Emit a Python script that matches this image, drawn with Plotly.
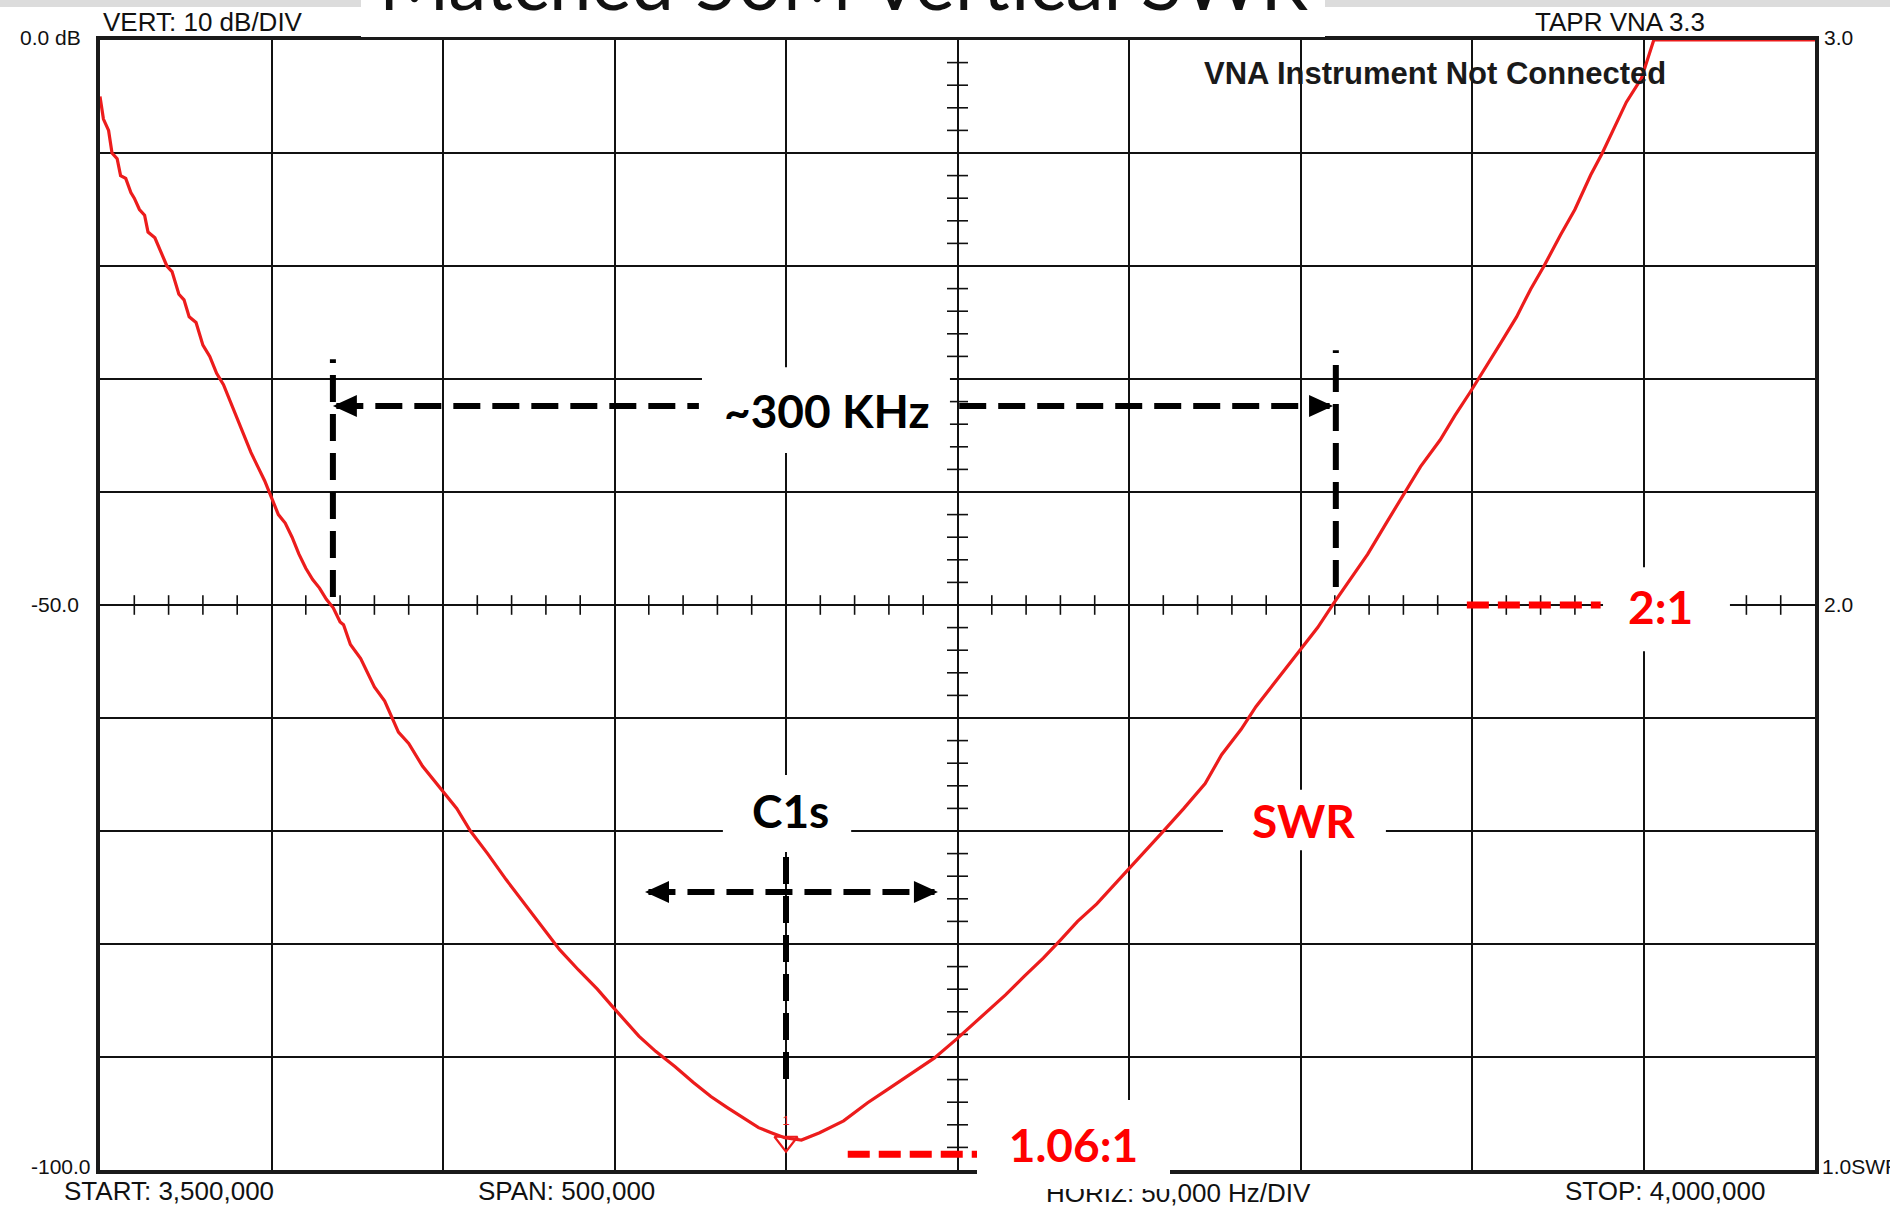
import plotly.graph_objects as go
import numpy as np

# ---------------- data ----------------
freq_khz = [3500, 3501, 3502.5, 3503.5, 3505, 3506, 3507.5, 3509, 3510, 3511.5,
            3513, 3514, 3516, 3518, 3519.5, 3521, 3523, 3524.5, 3526, 3528,
            3530, 3532, 3534, 3536, 3538, 3540, 3542, 3544, 3546, 3548,
            3550, 3552, 3554, 3556, 3558, 3560, 3562, 3564, 3566, 3568,
            3570, 3571, 3573, 3576, 3580, 3583, 3587, 3590, 3594, 3599.4,
            3604, 3608, 3613, 3618.4, 3624, 3629, 3634, 3639.5, 3645, 3649.3,
            3653, 3657.1, 3662, 3667.6, 3673, 3678.1, 3683, 3688.7, 3692, 3695.7,
            3699.6, 3704.5, 3709.8, 3716.8, 3723.8, 3729, 3734.4, 3739, 3743.2, 3749.8,
            3754, 3759, 3764, 3769.5, 3775, 3780, 3785, 3790.6, 3795, 3799.7,
            3805, 3809.9, 3816, 3822.2, 3827, 3832.7, 3837, 3841.5, 3846, 3849.6,
            3855, 3859.8, 3865, 3869.6, 3875, 3880.2, 3885, 3890.7, 3895, 3899.5,
            3904, 3908.3, 3913, 3917.1, 3921, 3925.8, 3930, 3934.6, 3938, 3941.7,
            3945, 3949.4, 3953, 3960, 3980, 4000]
swr = [2.90, 2.86, 2.84, 2.80, 2.79, 2.76, 2.755, 2.73, 2.72, 2.70,
       2.69, 2.66, 2.65, 2.62, 2.60, 2.59, 2.55, 2.54, 2.51, 2.50,
       2.46, 2.44, 2.41, 2.39, 2.36, 2.33, 2.30, 2.27, 2.245, 2.22,
       2.19, 2.16, 2.145, 2.12, 2.09, 2.065, 2.045, 2.03, 2.01, 1.995,
       1.97, 1.965, 1.93, 1.905, 1.855, 1.83, 1.775, 1.755, 1.715, 1.674,
       1.64, 1.60, 1.56, 1.514, 1.47, 1.43, 1.39, 1.354, 1.32, 1.29,
       1.265, 1.237, 1.21, 1.183, 1.155, 1.13, 1.11, 1.087, 1.075, 1.066,
       1.057, 1.053, 1.066, 1.087, 1.119, 1.14, 1.162, 1.18, 1.198, 1.232,
       1.255, 1.284, 1.31, 1.343, 1.375, 1.407, 1.44, 1.471, 1.50, 1.531,
       1.565, 1.599, 1.64, 1.684, 1.735, 1.78, 1.82, 1.855, 1.89, 1.919,
       1.96, 2.004, 2.05, 2.09, 2.145, 2.196, 2.245, 2.292, 2.335, 2.377,
       2.42, 2.463, 2.51, 2.559, 2.60, 2.655, 2.70, 2.761, 2.80, 2.846,
       2.89, 2.932, 3.0, 3.0, 3.0, 3.0]

x_range = [3500, 4000]
y_range = [1.0, 3.0]
x_div = 50
y_div = 0.2

marker_freq = [3700]
marker_swr = [1.05]

# annotation geometry (data units)
bw_left_x, bw_right_x = 3567.9, 3860.3
bw_left_y = [2.014, 2.435]
bw_right_y = [2.032, 2.451]
bw_arrow_y = 2.352
bw_arrow_left = [3567.9, 3674.6]
bw_arrow_right = [3750.5, 3859.5]

c1s_x = 3700.0
c1s_vert_y = [1.161, 1.563]
c1s_arrow_y = 1.492
c1s_arrow_x = [3658.9, 3744.3]

swr2_dash_x = [3898.5, 3937.5]
swr2_y = 2.0
swrmin_dash_x = [3718.0, 3757.0]
swrmin_y = 1.028

# ---------------- layout geometry ----------------
W, H = 1890, 1209
L, R, T, B = 100, 75, 40, 39
PW, PH = W - L - R, H - T - B


def px(xp):
    return (xp - L) / PW


def py(yp):
    return (H - B - yp) / PH


RED_C = "rgb(236,28,28)"
fig = go.Figure()

# center crosshair minor ticks
xt = [v for v in np.arange(x_range[0], x_range[1] + 1e-9, x_div / 5)
      if abs((v - x_range[0]) / x_div - round((v - x_range[0]) / x_div)) > 1e-6]
yt = [v for v in np.arange(y_range[0], y_range[1] + 1e-9, y_div / 5)
      if abs((v - y_range[0]) / y_div - round((v - y_range[0]) / y_div)) > 1e-6]
xc = (x_range[0] + x_range[1]) / 2
yc = (y_range[0] + y_range[1]) / 2
fig.add_trace(go.Scatter(x=xt, y=[yc] * len(xt), mode="markers",
                         marker=dict(symbol="line-ns", size=14,
                                     line=dict(color="#111", width=1.6)),
                         hoverinfo="skip", showlegend=False))
fig.add_trace(go.Scatter(x=[xc] * len(yt), y=yt, mode="markers",
                         marker=dict(symbol="line-ew", size=15,
                                     line=dict(color="#111", width=1.6)),
                         hoverinfo="skip", showlegend=False))

# SWR curve
fig.add_trace(go.Scatter(x=freq_khz, y=swr, mode="lines",
                         line=dict(color=RED_C, width=3.2),
                         cliponaxis=False, showlegend=False))
# marker
fig.add_trace(go.Scatter(x=marker_freq, y=marker_swr, mode="markers+text",
                         marker=dict(symbol="triangle-down-open", size=20, color=RED_C,
                                     line=dict(color=RED_C, width=2.2)),
                         text=["1"], textposition="top center",
                         textfont=dict(size=13, color=RED_C, family="Liberation Sans"),
                         showlegend=False))

shapes = []
BLK = "#000000"
RED = "#ff0000"
DASH_B = "27px,12px"
DASH_R = "22px,9px"


def wbox(x0, x1, y0, y1, ref="data"):
    if ref == "data":
        shapes.append(dict(type="rect", xref="x", yref="y", x0=x0, x1=x1, y0=y0, y1=y1,
                           fillcolor="white", line=dict(width=0), layer="above"))
    else:
        shapes.append(dict(type="rect", xref="paper", yref="paper", x0=x0, x1=x1, y0=y0, y1=y1,
                           fillcolor="white", line=dict(width=0), layer="above"))


def dline(x0, x1, y0, y1, color, dash, width):
    shapes.append(dict(type="line", xref="x", yref="y", x0=x0, x1=x1, y0=y0, y1=y1,
                       line=dict(color=color, width=width, dash=dash), layer="above"))


def head(x, y, direction, color=BLK, ln=24, hw=11):
    if direction == "left":
        path = f"M 0 0 L {ln} {hw} L {ln} {-hw} Z"
    else:
        path = f"M 0 0 L {-ln} {hw} L {-ln} {-hw} Z"
    shapes.append(dict(type="path", xref="x", yref="y", xsizemode="pixel", ysizemode="pixel",
                       xanchor=x, yanchor=y, path=path, fillcolor=color,
                       line=dict(width=0), layer="above"))


# top band + title box
shapes.append(dict(type="rect", xref="paper", yref="paper", x0=px(0), x1=px(W), y0=py(7), y1=py(0),
                   fillcolor="#dcdcdc", line=dict(width=0), layer="above"))
wbox(px(361), px(1325), py(37), py(0), ref="paper")

# white text boxes
wbox(3675.5, 3747.8, 2.269, 2.421)      # ~300 KHz
wbox(3681.6, 3719.0, 1.563, 1.699)      # C1s
wbox(3827.4, 3874.9, 1.566, 1.673)      # SWR
wbox(3938.2, 3975.2, 1.918, 2.067)      # 2:1

# bandwidth markers
dline(bw_left_x, bw_left_x, bw_left_y[0], bw_left_y[1], BLK, DASH_B, 6)
dline(bw_right_x, bw_right_x, bw_right_y[0], bw_right_y[1], BLK, DASH_B, 6)
dline(bw_arrow_left[0] + 1, bw_arrow_left[1], bw_arrow_y, bw_arrow_y, BLK, DASH_B, 6)
dline(bw_arrow_right[0], bw_arrow_right[1] - 1, bw_arrow_y, bw_arrow_y, BLK, DASH_B, 6)
head(bw_arrow_left[0], bw_arrow_y, "left")
head(bw_arrow_right[1], bw_arrow_y, "right")

# C1s markers
dline(c1s_x, c1s_x, c1s_vert_y[0], c1s_vert_y[1], BLK, DASH_B, 6)
dline(c1s_arrow_x[0] + 1, c1s_arrow_x[1] - 1, c1s_arrow_y, c1s_arrow_y, BLK, DASH_B, 6)
head(c1s_arrow_x[0], c1s_arrow_y, "left")
head(c1s_arrow_x[1], c1s_arrow_y, "right")

# red level dashes
dline(swr2_dash_x[0], swr2_dash_x[1], swr2_y, swr2_y, RED, DASH_R, 7)
dline(swrmin_dash_x[0], swrmin_dash_x[1], swrmin_y, swrmin_y, RED, DASH_R, 7)

fig.update_layout(shapes=shapes)

anns = []
SF = "Liberation Sans, Arial, sans-serif"
BF = "Lato, Open Sans, sans-serif"


def tpx(text, xp, yp, size, xanchor="left", yanchor="middle", color="#111", family=SF, weight="normal"):
    anns.append(dict(text=text, xref="paper", yref="paper", x=px(xp), y=py(yp),
                     xanchor=xanchor, yanchor=yanchor, showarrow=False,
                     font=dict(size=size, color=color, family=family, weight=weight)))


def tdata(text, x, y, color):
    anns.append(dict(text=text, xref="x", yref="y", x=x, y=y, xanchor="center", yanchor="middle",
                     showarrow=False, font=dict(size=46, color=color, family=BF, weight="bold")))


# title (mostly cut off above the page, as in the original screenshot)
tpx("Matched 50M Vertical SWR", 844, 28, 76, xanchor="center", yanchor="bottom", color="#111",
    family="Lato, Open Sans, sans-serif")

tpx("VERT: 10 dB/DIV", 101, 22, 26)
tpx("TAPR VNA 3.3", 1533, 22, 26)
tpx("0.0 dB", 18, 37, 21)
tpx("-50.0", 29, 604, 21)
tpx("-100.0", 29, 1166, 21)
tpx("3.0", 1822, 37, 21)
tpx("2.0", 1822, 604, 21)
tpx("1.0SWR", 1820, 1166, 21)
tpx("START: 3,500,000", 62, 1191, 26)
tpx("SPAN: 500,000", 476, 1191, 26)
tpx("HORIZ: 50,000 Hz/DIV", 1044, 1193, 26)
tpx("STOP: 4,000,000", 1563, 1191, 26)
tpx("VNA Instrument Not Connected", 1202, 74, 31, color="#1a1a1a", weight="bold")

tdata("~300 KHz", 3712, 2.345, BLK)
tdata("C1s", 3701.2, 1.637, BLK)
tdata("SWR", 3851, 1.619, RED)
tdata("2:1", 3955, 1.998, RED)

# "1.06:1" drawn last, on its own white box that hides the frame and the top of the HORIZ label
anns.append(dict(text="1.06:1", xref="paper", yref="paper", x=px(1073.5), y=py(1144.5),
                 xanchor="center", yanchor="middle", showarrow=False,
                 width=193, height=89, bgcolor="white", borderpad=0, borderwidth=0,
                 align="center", valign="middle",
                 font=dict(size=46, color=RED, family=BF, weight="bold")))

fig.update_layout(
    annotations=anns,
    width=W, height=H,
    margin=dict(l=L, r=R, t=T, b=B, pad=0),
    paper_bgcolor="white", plot_bgcolor="white",
    showlegend=False,
    xaxis=dict(range=x_range, tick0=x_range[0], dtick=x_div, showgrid=True,
               gridcolor="#111", gridwidth=1.6, showticklabels=False, ticks="",
               zeroline=False, showline=True, linewidth=3.5, linecolor="#1a1a1a",
               mirror=True, fixedrange=True),
    yaxis=dict(range=y_range, tick0=y_range[0], dtick=y_div, showgrid=True,
               gridcolor="#111", gridwidth=1.6, showticklabels=False, ticks="",
               zeroline=False, showline=True, linewidth=3.5, linecolor="#1a1a1a",
               mirror=True, fixedrange=True),
)

fig.write_html("out.html")
